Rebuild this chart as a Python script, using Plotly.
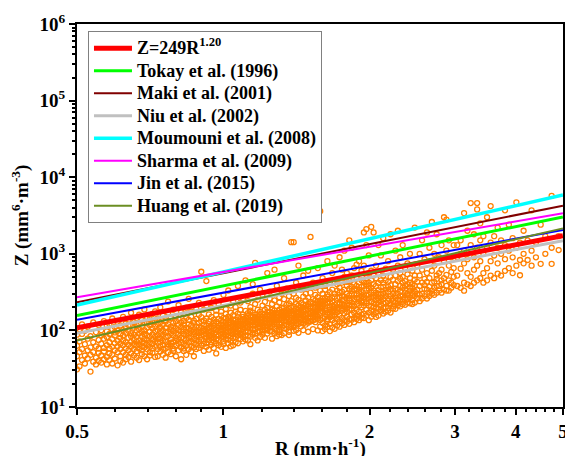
import numpy as np
import plotly.graph_objects as go

# ---------------- data ----------------
relation_labels = ["Z=249R<sup>1.20</sup>", "Tokay et al. (1996)", "Maki et al. (2001)",
                   "Niu et al. (2002)", "Moumouni et al. (2008)", "Sharma et al. (2009)",
                   "Jin et al. (2015)", "Huang et al. (2019)"]
relation_a = [249, 382, 558, 212, 581, 578, 311, 204]
relation_b = [1.20, 1.284, 1.261, 1.21, 1.435, 1.097, 1.171, 1.463]
relation_colors = ["#FF0000", "#00FF00", "#800000", "#C0C0C0", "#00FFFF", "#FF00FF", "#0000FF", "#6B8E23"]
relation_widths = [5, 3, 2, 3, 3.5, 2, 2, 2]

x_title = "R (mm·h<sup>-1</sup>)"
y_title = "Z (mm<sup>6</sup>·m<sup>-3</sup>)"
x_ticks = [0.5, 1, 2, 3, 4, 5]
x_ticktext = ["0.5", "1", "2", "3", "4", "5"]
x_minor = [0.6, 0.7, 0.8, 0.9, 1.2, 1.4, 1.6, 1.8, 2.2, 2.4, 2.6, 2.8,
           3.2, 3.4, 3.6, 3.8, 4.2, 4.4, 4.6, 4.8]
y_ticks = [1e1, 1e2, 1e3, 1e4, 1e5, 1e6]
y_ticktext = ["10<sup>1</sup>", "10<sup>2</sup>", "10<sup>3</sup>", "10<sup>4</sup>",
              "10<sup>5</sup>", "10<sup>6</sup>"]
y_minor = [m * 10 ** e for e in range(1, 6) for m in range(2, 10)]

scatter_columns = [
    (0.500, [46, 31, 63, 88]), (0.506, [34, 104, 52, 72]), (0.512, [41, 90, 57, 120]),
    (0.519, [47, 37, 99, 66]), (0.526, [55, 43, 78, 112]), (0.533, [29, 84, 48, 60]),
    (0.540, [39, 127, 70, 52]), (0.547, [62, 44, 95, 36]), (0.554, [51, 75, 118, 40, 58]),
    (0.561, [38, 86, 47, 67, 101]), (0.568, [59, 42, 132, 78, 53]), (0.576, [45, 97, 64, 36, 82, 115]),
    (0.583, [70, 50, 121, 41, 90, 58]), (0.591, [37, 61, 104, 77, 48, 143]), (0.598, [86, 55, 43, 111, 68, 94]),
    (0.606, [35, 73, 129, 52, 62, 99]), (0.614, [57, 90, 46, 80, 116, 40, 67]),
    (0.622, [101, 64, 38, 86, 52, 150, 74]), (0.630, [48, 123, 70, 58, 93, 42, 109]),
    (0.638, [80, 55, 137, 65, 45, 99, 118]), (0.646, [39, 71, 92, 61, 170, 50, 84]),
    (0.655, [108, 47, 76, 128, 57, 88, 66]), (0.663, [53, 145, 82, 63, 99, 44, 117, 71]),
    (0.671, [91, 58, 41, 74, 122, 160, 66, 104]), (0.680, [62, 113, 49, 84, 136, 71, 96, 55]),
    (0.688, [78, 46, 101, 188, 60, 90, 127, 68]), (0.697, [57, 124, 86, 65, 148, 42, 109, 75]),
    (0.706, [96, 52, 70, 117, 61, 83, 140, 47]), (0.715, [67, 164, 89, 51, 106, 76, 58, 127]),
    (0.724, [45, 98, 72, 133, 61, 177, 83, 113]), (0.733, [86, 57, 120, 69, 46, 101, 143, 78]),
    (0.742, [62, 109, 79, 200, 53, 93, 128, 70]), (0.751, [100, 48, 74, 156, 65, 87, 118, 57]),
    (0.761, [71, 130, 58, 94, 44, 108, 82, 136]), (0.770, [52, 84, 170, 66, 238, 97, 121, 61]),
    (0.780, [92, 63, 112, 49, 77, 145, 103, 69]), (0.789, [58, 125, 86, 70, 186, 54, 99, 113]),
    (0.799, [80, 46, 107, 64, 132, 92, 73, 152]), (0.809, [67, 214, 89, 55, 118, 76, 101, 141]),
    (0.819, [97, 60, 127, 81, 42, 173, 70, 110]), (0.829, [54, 90, 162, 66, 103, 78, 133, 58, 120]),
    (0.839, [75, 109, 48, 198, 87, 63, 145, 96]), (0.849, [120, 69, 91, 57, 258, 80, 106, 137]),
    (0.859, [62, 151, 84, 99, 72, 115, 53, 176]), (0.870, [104, 78, 134, 60, 89, 125, 68, 96, 46]),
    (0.880, [83, 192, 66, 113, 95, 57, 141, 74]), (0.891, [59, 101, 229, 85, 125, 71, 160, 92, 110]),
    (0.901, [131, 76, 94, 583, 64, 108, 86, 149]), (0.912, [88, 54, 119, 187, 73, 99, 135, 67, 105]),
    (0.923, [441, 68, 97, 143, 81, 115, 61, 210, 90]), (0.934, [109, 75, 162, 93, 132, 84, 56, 121, 101]),
    (0.945, [70, 196, 87, 112, 150, 65, 98, 79]), (0.956, [125, 91, 59, 106, 249, 82, 138, 72, 115]),
    (0.967, [95, 160, 77, 130, 103, 68, 181, 88, 50]), (0.978, [64, 114, 85, 141, 221, 99, 75, 123, 108]),
    (0.990, [135, 80, 176, 96, 61, 118, 104, 88, 156]), (1.001, [72, 291, 109, 90, 130, 83, 146, 66, 99, 120]),
    (1.012, [101, 143, 78, 190, 116, 59, 93, 164, 86, 127]), (1.024, [85, 121, 68, 108, 332, 96, 151, 76, 136]),
    (1.036, [145, 92, 211, 113, 73, 128, 101, 62, 170, 84]), (1.048, [96, 64, 135, 241, 89, 115, 158, 105, 79, 123]),
    (1.060, [70, 112, 176, 97, 138, 82, 124, 201, 90, 107]), (1.072, [121, 86, 149, 381, 103, 68, 131, 94, 166, 115]),
    (1.085, [91, 231, 114, 77, 140, 100, 124, 88, 186, 132]), (1.098, [139, 104, 161, 82, 261, 120, 95, 72, 150, 111]),
    (1.111, [97, 124, 451, 87, 146, 108, 180, 76, 134, 116]), (1.124, [154, 112, 74, 130, 96, 241, 122, 85, 168, 140]),
    (1.137, [106, 83, 138, 201, 118, 95, 157, 130, 66, 181]), (1.150, [127, 401, 102, 149, 88, 171, 116, 135, 301, 93]),
    (1.163, [91, 140, 118, 761, 105, 160, 128, 80, 221, 148]), (1.177, [135, 98, 186, 120, 152, 74, 109, 251, 144, 126]),
    (1.190, [109, 158, 130, 82, 341, 121, 142, 97, 175, 113]), (1.204, [150, 116, 96, 211, 137, 104, 165, 127, 291, 88]),
    (1.218, [103, 143, 236, 124, 162, 80, 133, 112, 186, 152]), (1.232, [127, 561, 107, 153, 117, 196, 140, 100, 173, 91]),
    (1.246, [160, 121, 98, 261, 145, 134, 110, 176, 321, 127]), (1.260, [114, 187, 138, 78, 157, 126, 221, 97, 148, 170]),
    (1.275, [141, 106, 621, 130, 166, 119, 246, 155, 91, 183]), (1.289, [127, 171, 146, 381, 84, 136, 206, 121, 158, 99]),
    (1.304, [168, 120, 139, 102, 186, 271, 151, 88, 231, 95]), (1.319, [112, 146, 301, 162, 125, 196, 137, 175, 87, 156]),
    (1.334, [178, 135, 107, 481, 150, 92, 256, 164, 200, 116]), (1.349, [131, 158, 216, 143, 351, 119, 184, 170, 104, 149]),
    (1.365, [190, 140, 166, 281, 128, 87, 112, 226, 178, 96]), (1.380, [146, 1420, 121, 176, 241, 159, 135, 197, 115, 168]),
    (1.396, [204, 132, 1420, 166, 99, 118, 301, 183, 143, 110]), (1.412, [156, 421, 137, 191, 172, 124, 221, 149, 266, 101]),
    (1.428, [176, 211, 131, 93, 701, 187, 143, 251, 121, 164]), (1.445, [138, 181, 341, 161, 126, 229, 199, 147, 113, 171]),
    (1.461, [199, 152, 521, 101, 136, 276, 160, 219, 123, 186]), (1.478, [165, 381, 141, 212, 183, 130, 246, 157, 301, 119]),
    (1.495, [221, 96, 148, 191, 601, 165, 133, 266, 204, 126]), (1.512, [152, 236, 180, 1660, 142, 206, 168, 311, 131, 194]),
    (1.530, [203, 161, 256, 104, 135, 226, 176, 421, 149, 171]), (1.547, [176, 291, 155, 216, 198, 139, 246, 361, 165, 128]),
    (1.565, [236, 183, 651, 100, 206, 151, 271, 192, 226, 143]), (1.583, [157, 209, 3600, 112, 246, 170, 331, 199, 137, 226]),
    (1.601, [260, 176, 125, 481, 193, 98, 236, 301, 145, 209]), (1.620, [190, 341, 116, 226, 150, 381, 104, 266, 181, 246]),
    (1.638, [226, 801, 133, 159, 276, 111, 171, 236, 296, 141]), (1.657, [164, 256, 201, 421, 121, 231, 316, 149, 98, 186]),
    (1.676, [241, 191, 136, 561, 171, 109, 266, 206, 156, 341]), (1.695, [201, 276, 161, 126, 181, 701, 301, 216, 105, 151]),
    (1.715, [266, 141, 401, 186, 116, 226, 331, 171, 196, 461]), (1.735, [189, 311, 131, 221, 901, 156, 271, 112, 361, 231]),
    (1.755, [286, 216, 146, 196, 421, 124, 181, 321, 251, 621]), (1.775, [206, 341, 136, 276, 166, 1100, 251, 118, 216, 501]),
    (1.796, [301, 151, 261, 196, 381, 130, 211, 561, 176, 431]), (1.817, [216, 441, 286, 141, 1500, 261, 186, 351, 122, 246]),
    (1.838, [331, 161, 211, 301, 521, 138, 231, 1200, 371, 191]), (1.859, [241, 291, 401, 146, 651, 171, 256, 128, 346, 206]),
    (1.881, [346, 266, 156, 301, 186, 481, 141, 221, 381, 721]), (1.903, [256, 321, 176, 421, 801, 136, 341, 151, 266, 211]),
    (1.925, [371, 201, 601, 146, 316, 246, 451, 161, 281, 231]), (1.947, [271, 166, 1900, 296, 381, 145, 426, 211, 236, 701]),
    (1.970, [401, 186, 2100, 351, 481, 156, 286, 1300, 241, 226]), (1.993, [291, 351, 171, 951, 211, 421, 136, 381, 261, 561]),
    (2.016, [181, 451, 2250, 241, 311, 151, 601, 271, 206, 361]), (2.039, [331, 201, 521, 163, 266, 1900, 401, 226, 291, 181]),
    (2.062, [221, 381, 171, 701, 311, 246, 481, 196, 281, 150]), (2.086, [416, 261, 191, 1300, 336, 156, 231, 561, 301]),
    (2.110, [246, 176, 451, 291, 951, 211, 366, 271, 185]), (2.134, [371, 226, 166, 521, 301, 1600, 256, 196, 421]),
    (2.159, [281, 201, 641, 341, 231, 175, 451, 311]), (2.184, [196, 431, 261, 801, 181, 371, 241, 321]),
    (2.209, [346, 226, 1800, 281, 501, 216, 391, 171]), (2.235, [261, 461, 206, 331, 621, 241, 301, 193]),
    (2.261, [401, 231, 1100, 281, 191, 521, 351, 266]), (2.287, [211, 341, 251, 701, 301, 441, 226, 2000]),
    (2.313, [471, 281, 206, 381, 561, 246, 321, 901]), (2.340, [256, 361, 221, 501, 286, 1300, 421, 236]),
    (2.367, [311, 216, 441, 266, 651, 381, 341]), (2.394, [541, 286, 231, 401, 301, 751, 256]),
    (2.422, [226, 361, 481, 271, 331, 421, 1000]), (2.450, [401, 251, 301, 601, 356, 286, 221]),
    (2.478, [281, 461, 231, 381, 321, 521, 2200]), (2.507, [341, 261, 701, 431, 301]),
    (2.536, [241, 521, 381, 1000, 291]), (2.565, [421, 301, 620, 261, 1500]), (2.595, [351, 471, 281, 850, 391]),
    (2.625, [261, 1900, 341, 561, 431]), (2.656, [481, 311, 1200, 371, 281]), (2.687, [331, 601, 421, 2600, 301]),
    (2.718, [431, 291, 701, 361, 1000]), (2.749, [311, 521, 381, 1800, 471]), (2.781, [381, 331, 901, 561]),
    (2.813, [451, 1300, 311, 621, 401]), (2.846, [341, 801, 481, 3000]), (2.879, [531, 381, 1100, 331, 2800]),
    (2.912, [331, 701, 451, 1500]), (2.946, [421, 581, 361, 901]), (2.980, [501, 1300, 391, 651]),
    (3.03, [380, 520, 900, 1300]), (3.08, [360, 640, 1000, 1500]), (3.13, [330, 420, 750, 1100, 3400]),
    (3.18, [400, 560, 850, 2000]), (3.23, [380, 500, 1300, 4600]), (3.28, [420, 620, 900, 1800]),
    (3.33, [450, 700, 1200, 3800, 4600]), (3.38, [480, 800, 1500, 2500]), (3.43, [420, 560, 1000, 1700]),
    (3.49, [450, 650, 1200, 3000]), (3.55, [520, 800, 1400, 4200]), (3.61, [480, 950, 1700]),
    (3.67, [550, 750, 1200, 2200]), (3.73, [520, 1000, 1500]), (3.80, [600, 850, 1300, 3700]),
    (3.87, [650, 1100, 2400]), (3.94, [560, 900, 1600]), (4.01, [700, 1200, 4700]),
    (4.08, [525, 830, 1400]), (4.15, [750, 1000, 2000]), (4.23, [830, 1500]), (4.31, [700, 1100, 3700]),
    (4.40, [900, 1400]), (4.50, [740, 2400]), (4.60, [1000, 1700]), (4.74, [740, 5700, 1200]),
    (4.90, [1120, 1700]),
]

scatter_R = [r for r, zs in scatter_columns for _ in zs]
scatter_Z = [z for r, zs in scatter_columns for z in zs]

# ---------------- figure ----------------
FONT = "Liberation Serif, Times New Roman, Times, serif"
fig = go.Figure()

fig.add_trace(go.Scatter(
    x=scatter_R, y=scatter_Z, mode="markers", showlegend=False,
    marker=dict(symbol="circle-open", size=5, color="#FF8000",
                line=dict(width=1.3, color="#FF8000")),
))

r_line = np.array([0.5, 1.0, 2.0, 5.0])
for lab, a, b, col, w in zip(relation_labels, relation_a, relation_b, relation_colors, relation_widths):
    fig.add_trace(go.Scatter(x=r_line, y=a * r_line ** b, mode="lines",
                             name='<span style="font-size:18px">' + lab + '</span>',
                             line=dict(color=col, width=w)))

axis_common = dict(
    showline=True, linecolor="black", linewidth=2, mirror=True,
    ticks="outside", ticklen=6, tickwidth=1.5, tickcolor="black",
    showgrid=False, zeroline=False, automargin=True,
    tickfont=dict(family=FONT, size=19, color="black", weight="bold"),
)

fig.update_xaxes(
    type="log", range=[np.log10(0.5), np.log10(5.002)],
    tickvals=x_ticks, ticktext=x_ticktext, ticklabelstandoff=0, ticklabeloverflow="allow",
    minor=dict(tickvals=x_minor, ticks="outside", ticklen=3, tickwidth=1.5, tickcolor="black"),
    **axis_common,
)
fig.update_yaxes(
    type="log", range=[1, 6],
    tickvals=y_ticks, ticktext=y_ticktext,
    minor=dict(tickvals=y_minor, ticks="outside", ticklen=3, tickwidth=1.5, tickcolor="black"),
    title=dict(text=y_title, standoff=6,
               font=dict(family=FONT, size=19, color="black", weight="bold")),
    **axis_common,
)

fig.add_annotation(
    text=x_title, xref="paper", yref="paper", x=0.5, y=-0.107,
    xanchor="center", yanchor="middle", showarrow=False,
    font=dict(family=FONT, size=19, color="black", weight="bold"),
)

fig.update_layout(
    width=565, height=456,
    margin=dict(l=77, r=2, t=24, b=49, autoexpand=False),
    paper_bgcolor="white", plot_bgcolor="white",
    font=dict(family=FONT, color="black"),
    legend=dict(
        x=0.0226, y=0.982, xanchor="left", yanchor="top",
        bgcolor="white", bordercolor="#808080", borderwidth=1,
        font=dict(family=FONT, size=15, color="black", weight="bold"),
        itemwidth=38, tracegroupgap=0,
    ),
)

fig.write_html("out.html")
